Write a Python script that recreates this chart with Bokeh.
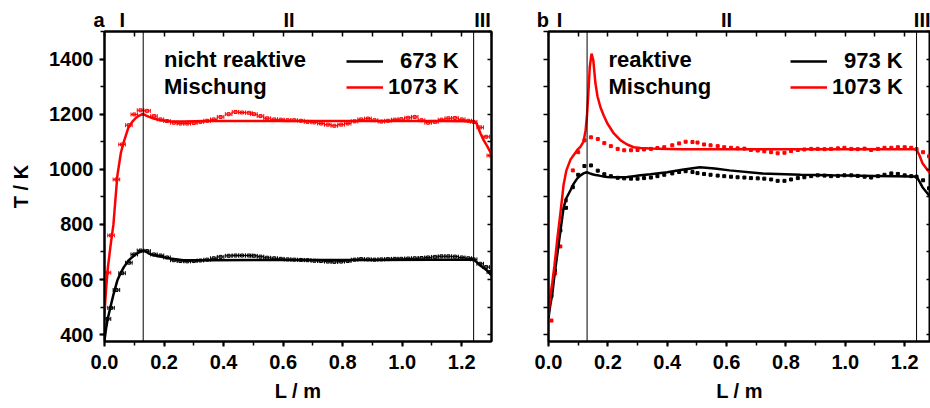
from bokeh.plotting import figure
from bokeh.models import (Range1d, LinearAxis, Span, Label, Legend, LegendItem,
                          Whisker, ColumnDataSource, SingleIntervalTicker, FixedTicker,
                          NumeralTickFormatter, TeeHead)
from bokeh.layouts import row
from bokeh.embed import file_html
from bokeh.resources import INLINE

FONT = "Liberation Sans"
RED = "#ff0000"
BLACK = "#000000"

# ---------------- panel a : nicht reaktive Mischung ----------------
La_model = [0.0, 0.005, 0.011, 0.02, 0.03, 0.043, 0.055, 0.065, 0.08, 0.093, 0.105,
            0.117, 0.127, 0.133, 0.14, 0.15, 0.165, 0.188, 0.22, 0.265, 0.35, 0.5,
            0.7, 0.9, 1.1, 1.24, 1.25, 1.263, 1.274, 1.285, 1.30]
Ta_model_673 = [378, 420, 458, 500, 545, 596, 625, 645, 668, 681, 692, 699, 703, 705, 701,
                694, 688, 683, 676, 670, 670, 671, 671, 671, 672, 672, 663, 650, 642, 633, 615]
Ta_model_1073 = [476, 560, 640, 720, 800, 975, 1060, 1100, 1150, 1172, 1186, 1195, 1200, 1199,
                 1195, 1190, 1184, 1178, 1174, 1173, 1175, 1175, 1175, 1175, 1175, 1174, 1166,
                 1130, 1105, 1085, 1055]

La_meas = [0.010, 0.022, 0.040, 0.059, 0.082, 0.100, 0.121, 0.143, 0.166, 0.188, 0.210,
           0.233, 0.255, 0.278, 0.300, 0.322, 0.345, 0.367, 0.390, 0.417, 0.440, 0.462,
           0.485, 0.502, 0.524, 0.546, 0.570, 0.592, 0.615, 0.637, 0.660, 0.682, 0.705,
           0.727, 0.750, 0.772, 0.795, 0.817, 0.840, 0.862, 0.885, 0.907, 0.930, 0.952,
           0.975, 0.997, 1.020, 1.042, 1.065, 1.087, 1.110, 1.132, 1.155, 1.177, 1.200,
           1.222, 1.240, 1.262, 1.282, 1.296]
Ta_meas_1073 = [625, 760, 963, 1090, 1160, 1199, 1214, 1212, 1193, 1181, 1175, 1169, 1166,
                1166, 1168, 1172, 1176, 1181, 1190, 1200, 1208, 1206, 1205, 1200, 1193, 1185,
                1181, 1180, 1178, 1178, 1176, 1172, 1170, 1166, 1162, 1158, 1162, 1166, 1174,
                1181, 1184, 1178, 1173, 1176, 1180, 1182, 1187, 1190, 1178, 1169, 1172, 1180,
                1185, 1186, 1181, 1176, 1172, 1152, 1118, 1050]
Ta_meas_673 = [457, 497, 562, 623, 661, 691, 705, 703, 691, 687, 680, 670, 667, 666, 667,
               669, 672, 677, 682, 686, 687, 687, 687, 686, 683, 679, 677, 675, 673, 672,
               671, 670, 668, 667, 665, 664, 665, 667, 672, 674, 673, 672, 673, 674, 675,
               675, 676, 677, 678, 680, 682, 684, 684, 683, 680, 677, 673, 657, 645, 627]
L_err = 0.011

# ---------------- panel b : reaktive Mischung ----------------
Lb_model = [0.0, 0.005, 0.013, 0.02, 0.03, 0.04, 0.051, 0.06, 0.074, 0.085, 0.097, 0.108,
            0.118, 0.125, 0.13, 0.135, 0.139, 0.145, 0.151, 0.158, 0.165, 0.175, 0.186,
            0.198, 0.22, 0.243, 0.265, 0.287, 0.31, 0.344, 0.40, 0.45, 0.51, 0.56, 0.61,
            0.72, 0.85, 0.95, 1.1, 1.23, 1.24, 1.25, 1.26, 1.275, 1.29]
Tb_model_973 = [460, 500, 549, 615, 694, 775, 862, 895, 924, 948, 967, 978, 985, 988, 989,
                987, 985, 983, 981, 979, 978, 976, 974, 972, 971, 971, 972, 975, 978, 982,
                989, 998, 1007, 1003, 996, 985, 980, 978, 976, 974, 973, 955, 935, 915, 895]
Tb_model_1073 = [470, 530, 590, 650, 750, 840, 945, 995, 1035, 1052, 1070, 1082, 1100, 1142,
                 1200, 1290, 1371, 1420, 1395, 1313, 1265, 1225, 1195, 1167, 1130, 1105, 1090,
                 1080, 1077, 1075, 1074, 1073, 1073, 1073, 1073, 1073, 1073, 1073, 1073, 1073,
                 1072, 1050, 1022, 1000, 980]

Lb_meas = [0.010, 0.022, 0.040, 0.059, 0.082, 0.100, 0.121, 0.143, 0.166, 0.188, 0.210,
           0.233, 0.255, 0.278, 0.300, 0.322, 0.345, 0.367, 0.390, 0.417, 0.440, 0.462,
           0.485, 0.502, 0.524, 0.546, 0.570, 0.592, 0.615, 0.637, 0.660, 0.682, 0.705,
           0.727, 0.750, 0.772, 0.795, 0.817, 0.840, 0.862, 0.885, 0.907, 0.930, 0.952,
           0.975, 0.997, 1.020, 1.042, 1.065, 1.087, 1.110, 1.132, 1.155, 1.177, 1.200,
           1.222, 1.240, 1.262, 1.282]
Tb_meas_1073 = [451, 622, 720, 887, 996, 1062, 1105, 1116, 1110, 1095, 1084, 1074, 1069,
                1069, 1070, 1072, 1074, 1077, 1080, 1087, 1094, 1100, 1099, 1097, 1090, 1087,
                1084, 1080, 1078, 1076, 1075, 1070, 1068, 1065, 1062, 1058, 1060, 1066, 1070,
                1072, 1074, 1074, 1073, 1074, 1076, 1078, 1074, 1073, 1075, 1070, 1074, 1078,
                1078, 1080, 1080, 1078, 1073, 1062, 1047]
Tb_meas_973 = [540, 633, 778, 860, 935, 980, 1012, 1014, 995, 982, 975, 969, 967, 966, 966,
               968, 970, 975, 980, 985, 990, 993, 990, 986, 983, 980, 977, 975, 973, 971,
               970, 968, 967, 966, 963, 958, 958, 963, 968, 971, 975, 978, 977, 975, 976,
               978, 978, 976, 973, 970, 975, 980, 985, 983, 978, 975, 973, 960, 931]

zone_bounds = [0.13, 1.24]
zone_names = ["I", "II", "III"]
zone_pos_a = [0.06, 0.62, 1.27]
zone_pos_b = [0.037, 0.60, 1.265]

minor_x = [round(0.1 * i, 1) for i in range(14)]
minor_y = list(range(400, 1501, 100))


def make_fig(width, x_end, mb_left, mb_right, y_labels, panel_letter, zone_pos):
    p = figure(width=width, height=407, x_range=Range1d(0, x_end), y_range=Range1d(375, 1500),
               min_border_left=mb_left, min_border_right=mb_right,
               min_border_top=31, min_border_bottom=66,
               output_backend="svg", toolbar_location=None)
    p.xgrid.grid_line_color = None
    p.ygrid.grid_line_color = None
    p.outline_line_color = "black"
    p.outline_line_width = 2
    p.background_fill_color = "white"
    p.border_fill_color = "white"

    xt = SingleIntervalTicker(interval=0.2, num_minor_ticks=2)
    p.xaxis.ticker = xt
    p.xaxis.formatter = NumeralTickFormatter(format="0.0")
    if y_labels:
        p.yaxis.ticker = SingleIntervalTicker(interval=200, num_minor_ticks=2)
    else:
        p.yaxis.ticker = FixedTicker(ticks=[], minor_ticks=minor_y)
    for ax in (p.xaxis[0], p.yaxis[0]):
        ax.axis_line_width = 2
        ax.major_tick_line_width = 2
        ax.minor_tick_line_width = 1.5
        ax.major_tick_out = 5
        ax.major_tick_in = 0
        ax.minor_tick_out = 4
        ax.minor_tick_in = 0
        ax.major_label_text_font = FONT
        ax.major_label_text_font_style = "bold"
        ax.major_label_text_font_size = "20px"
        ax.major_label_text_color = "black"
        ax.axis_label_text_font = FONT
        ax.axis_label_text_font_style = "bold"
        ax.axis_label_text_font_size = "20px"
        ax.axis_label_text_color = "black"
    p.xaxis.major_label_standoff = 8
    p.yaxis.major_label_standoff = 6
    p.xaxis.axis_label = "L / m"
    p.xaxis.axis_label_standoff = 8
    if y_labels:
        p.yaxis.axis_label = "T / K"
        p.yaxis.axis_label_standoff = 14
    else:
        p.yaxis.minor_tick_out = 5

    # top axis: inward ticks every 0.1, zone names as labels
    top_ticks = [0] + zone_pos
    overrides = {0: panel_letter + "\u00a0\u00a0"}
    for name, pos in zip(zone_names, zone_pos):
        overrides[pos] = name
    top = LinearAxis(ticker=FixedTicker(ticks=top_ticks, minor_ticks=minor_x),
                     axis_line_width=2, major_tick_in=0, major_tick_out=0,
                     minor_tick_line_width=1.5, minor_tick_in=5, minor_tick_out=0,
                     major_label_overrides=overrides, major_label_standoff=1,
                     major_label_text_font=FONT, major_label_text_font_style="bold",
                     major_label_text_font_size="20px", major_label_text_color="black")
    p.add_layout(top, "above")
    right = LinearAxis(ticker=FixedTicker(ticks=[], minor_ticks=minor_y),
                       axis_line_width=2, major_tick_in=0, major_tick_out=0,
                       minor_tick_line_width=1.5, minor_tick_in=4, minor_tick_out=0,
                       major_label_standoff=0)
    p.add_layout(right, "right")

    for b in zone_bounds:
        p.add_layout(Span(location=b, dimension="height", line_color="black", line_width=1))
    return p


def add_text(p, x, y, txt):
    p.add_layout(Label(x=x, y=y, text=txt, text_font=FONT, text_font_style="bold",
                       text_font_size="22px", text_align="left", text_baseline="alphabetic",
                       text_color="black"))


def add_legend(p, r, lab, loc_y, standoff):
    leg = Legend(items=[LegendItem(label=lab, renderers=[r])],
                 location=(242, loc_y), padding=0, margin=0, spacing=0,
                 glyph_width=37, glyph_height=30, label_height=30, label_standoff=standoff,
                 label_text_font=FONT, label_text_font_style="bold",
                 label_text_font_size="22px", label_text_color="black",
                 border_line_color=None, background_fill_alpha=0)
    p.add_layout(leg)


# ---------- panel a ----------
pa = make_fig(520, 1.3, 104, 29, True, "a", zone_pos_a)
for T, col in ((Ta_meas_673, BLACK), (Ta_meas_1073, RED)):
    src = ColumnDataSource(dict(L=La_meas, T=T,
                                lo=[v - L_err for v in La_meas],
                                hi=[v + L_err for v in La_meas]))
    pa.add_layout(Whisker(source=src, base="T", lower="lo", upper="hi", dimension="width",
                          line_color=col, line_width=1,
                          upper_head=TeeHead(size=4, line_color=col, line_width=1),
                          lower_head=TeeHead(size=4, line_color=col, line_width=1)))
    pa.scatter("L", "T", source=src, marker="square", size=3, line_color=col,
               fill_color=col, fill_alpha=0.4, line_width=1)
ra1 = pa.line(La_model, Ta_model_673, line_color=BLACK, line_width=2.5)
ra2 = pa.line(La_model, Ta_model_1073, line_color=RED, line_width=2.5)
add_legend(pa, ra1, "673 K", 265, 17)
add_legend(pa, ra2, "1073 K", 239, 5)
add_text(pa, 0.2, 1399, "nicht reaktive")
add_text(pa, 0.2, 1302, "Mischung")

# ---------- panel b ----------
pb = make_fig(410, 1.287, 28, 0, False, "b", zone_pos_b)
pb.scatter(Lb_meas, Tb_meas_973, marker="square", size=3, color=BLACK)
pb.scatter(Lb_meas, Tb_meas_1073, marker="square", size=3, color=RED)
rb1 = pb.line(Lb_model, Tb_model_973, line_color=BLACK, line_width=2.5)
rb2 = pb.line(Lb_model, Tb_model_1073, line_color=RED, line_width=2.5)
add_legend(pb, rb1, "973 K", 265, 17)
add_legend(pb, rb2, "1073 K", 239, 5)
add_text(pb, 0.202, 1399, "reaktive")
add_text(pb, 0.202, 1302, "Mischung")

layout = row(pa, pb, spacing=0)
open("out.html", "w").write(file_html(layout, INLINE))
